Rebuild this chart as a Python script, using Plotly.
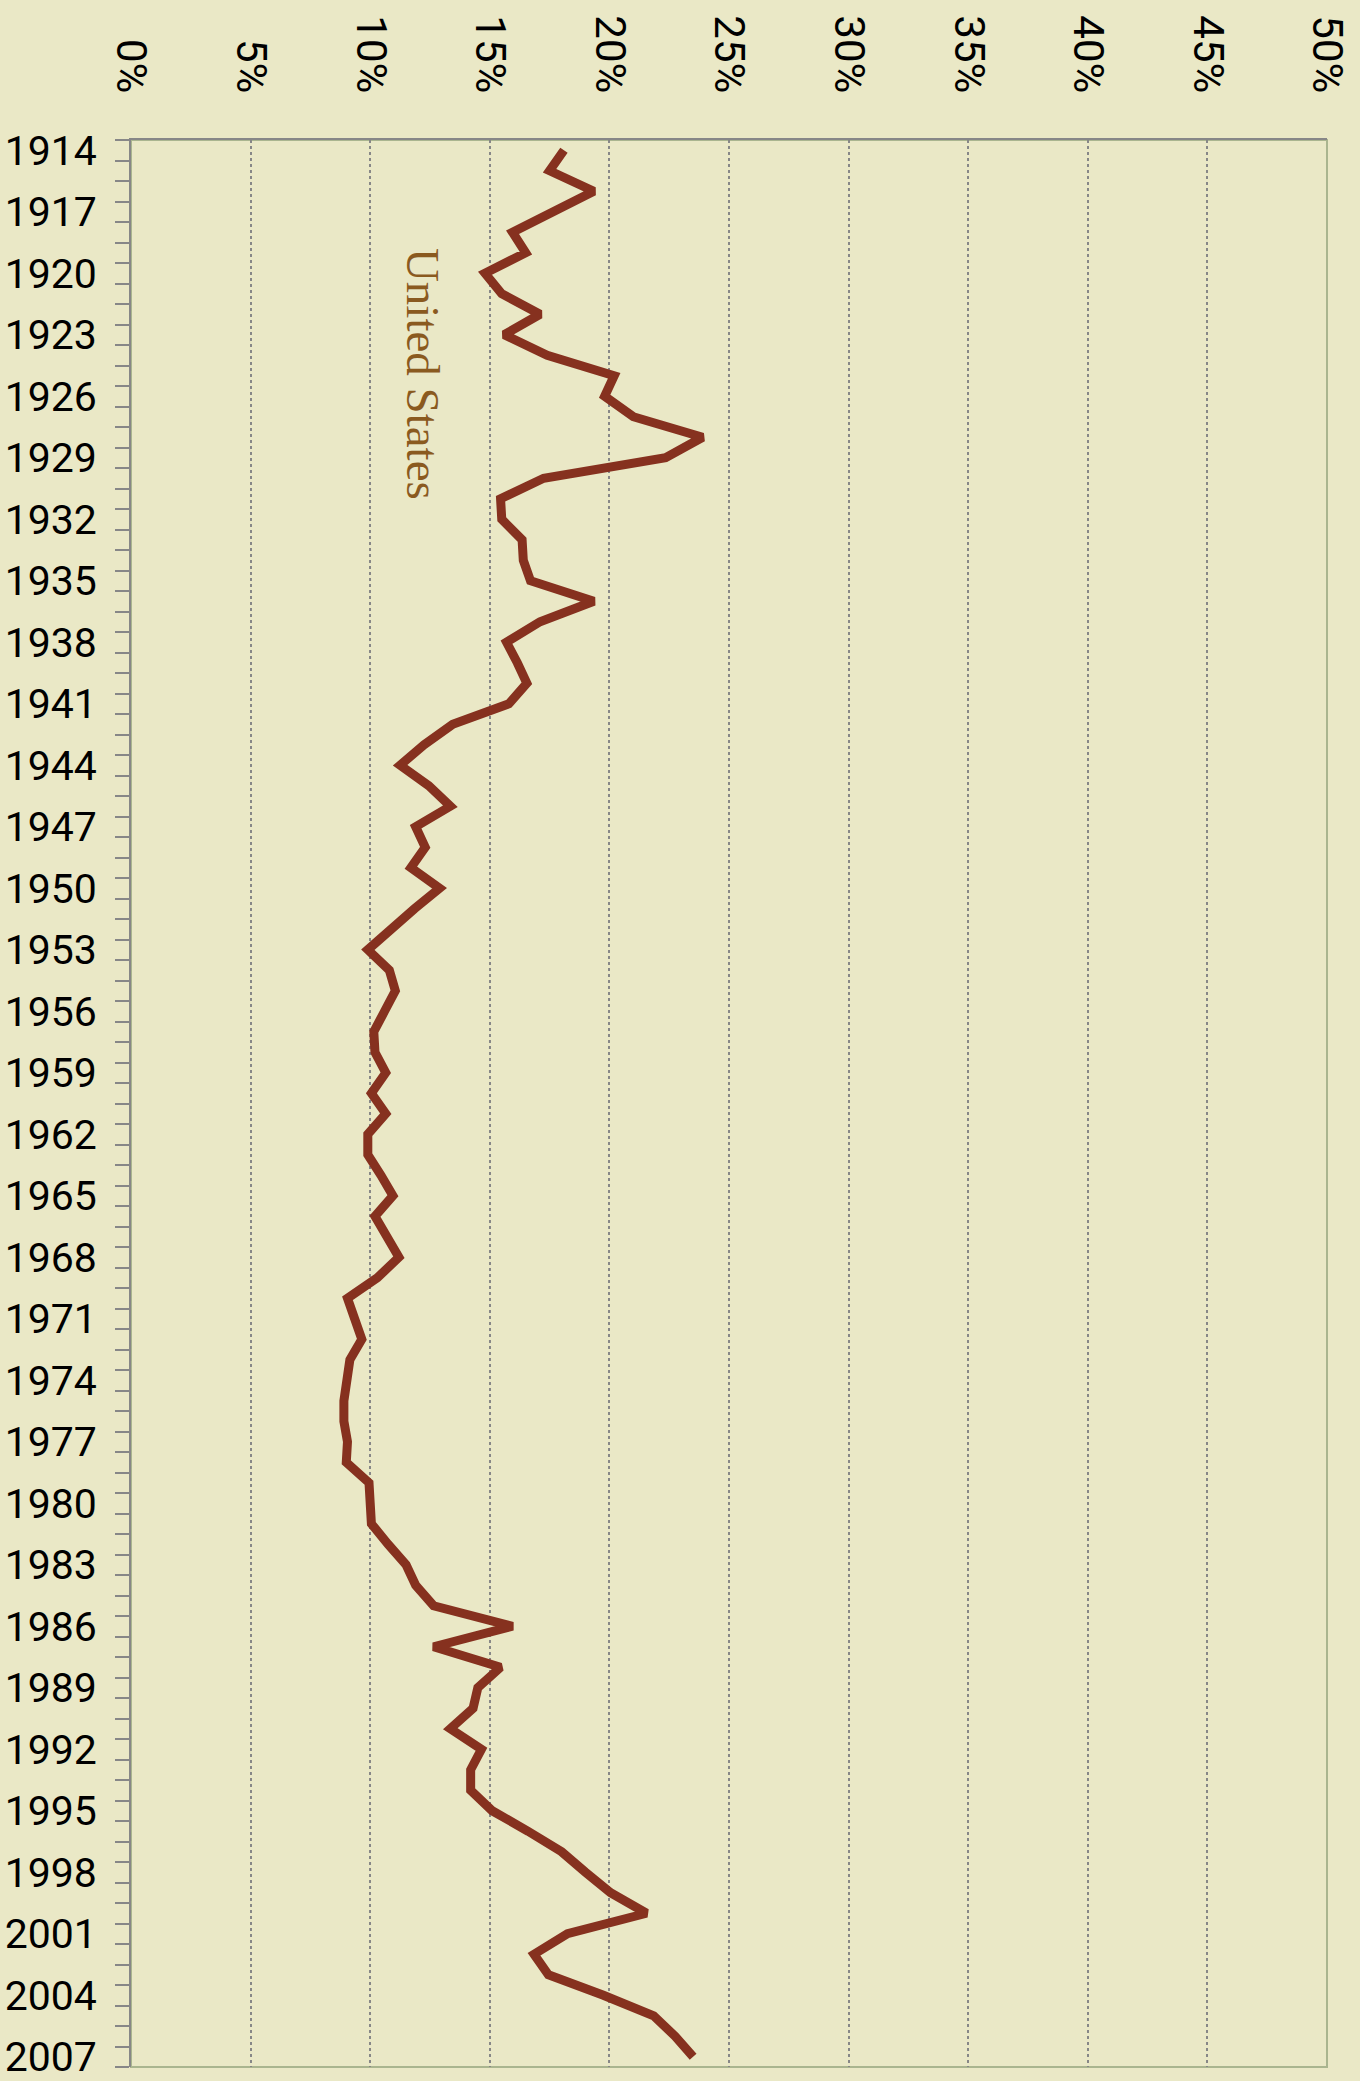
import plotly.graph_objects as go

# share of income, United States, 1914-2007 (%)
years = list(range(1914, 2008))
share = [
    18.1, 17.5, 19.35, 17.55, 15.95, 16.5, 14.8, 15.5, 17.1, 15.6,
    17.4, 20.2, 19.8, 21.0, 23.9, 22.35, 17.25, 15.45, 15.5, 16.35,
    16.4, 16.7, 19.35, 17.1, 15.7, 16.15, 16.55, 15.8, 13.45, 12.25,
    11.25, 12.45, 13.35, 11.9, 12.3, 11.7, 12.9, 11.85, 10.85, 9.9,
    10.8, 11.05, 10.6, 10.15, 10.2, 10.65, 10.05, 10.65, 9.9, 9.9,
    10.45, 10.95, 10.2, 10.75, 11.2, 10.3, 9.05, 9.35, 9.65, 9.15,
    9.05, 8.9, 8.9, 9.05, 9.0, 9.95, 10.0, 10.05, 10.75, 11.5,
    11.9, 12.65, 15.95, 12.65, 15.45, 14.5, 14.3, 13.35, 14.65, 14.2,
    14.2, 15.1, 16.6, 18.0, 19.0, 20.05, 21.55, 18.25, 16.85, 17.45,
    19.75, 21.85, 22.75, 23.5,
]
year_ticks = years[::3]
pct_ticks = [0, 5, 10, 15, 20, 25, 30, 35, 40, 45, 50]
pct_labels = ["0%", "5%", "10%", "15%", "20%", "25%", "30%", "35%", "40%", "45%", "50%"]

bg = "#EAE8C6"
grey = "#878787"

fig = go.Figure()

fig.add_trace(
    go.Scatter(
        x=share,
        y=years,
        mode="lines",
        line=dict(color="#86311F", width=9),
        hovertemplate="%{y}: %{x:.1f}%<extra></extra>",
    )
)

# plot area border (greenish, as in the original)
fig.add_shape(
    type="rect", xref="paper", yref="paper", x0=0, x1=1, y0=0, y1=1,
    line=dict(color="#AAB58F", width=2), layer="below",
)

fig.add_annotation(
    x=12.2, y=1924.9, xref="x", yref="y",
    text="United States", showarrow=False, textangle=90,
    font=dict(family="Liberation Serif", size=47, color="#8A5A1F"),
)

fig.update_layout(
    width=1360,
    height=2081,
    margin=dict(l=131, r=33, t=140, b=14),
    paper_bgcolor=bg,
    plot_bgcolor=bg,
    showlegend=False,
    xaxis=dict(
        side="top",
        range=[0, 50],
        tickvals=pct_ticks,
        ticktext=pct_labels,
        tickangle=90,
        ticks="",
        ticklabelstandoff=30,
        ticklabeloverflow="allow",
        tickfont=dict(family="Roboto", size=42, color="black"),
        showline=True,
        linecolor=grey,
        linewidth=2,
        showgrid=True,
        gridcolor=grey,
        griddash="dot",
        gridwidth=1.5,
        zeroline=False,
        automargin=False,
        fixedrange=True,
    ),
    yaxis=dict(
        range=[2007.5, 1913.5],
        tickvals=year_ticks,
        ticks="",
        ticklabelstandoff=24,
        ticklabeloverflow="allow",
        tickfont=dict(family="Roboto", size=41, color="black"),
        showline=True,
        linecolor=grey,
        linewidth=2,
        showgrid=False,
        zeroline=False,
        automargin=False,
        minor=dict(
            tick0=1913.5, dtick=1, ticks="outside", ticklen=14,
            tickcolor=grey, tickwidth=2, showgrid=False,
        ),
        fixedrange=True,
    ),
)

fig.write_html(
    "out.html",
    config={"displayModeBar": False},
    post_script="document.body.style.margin='0';",
)
